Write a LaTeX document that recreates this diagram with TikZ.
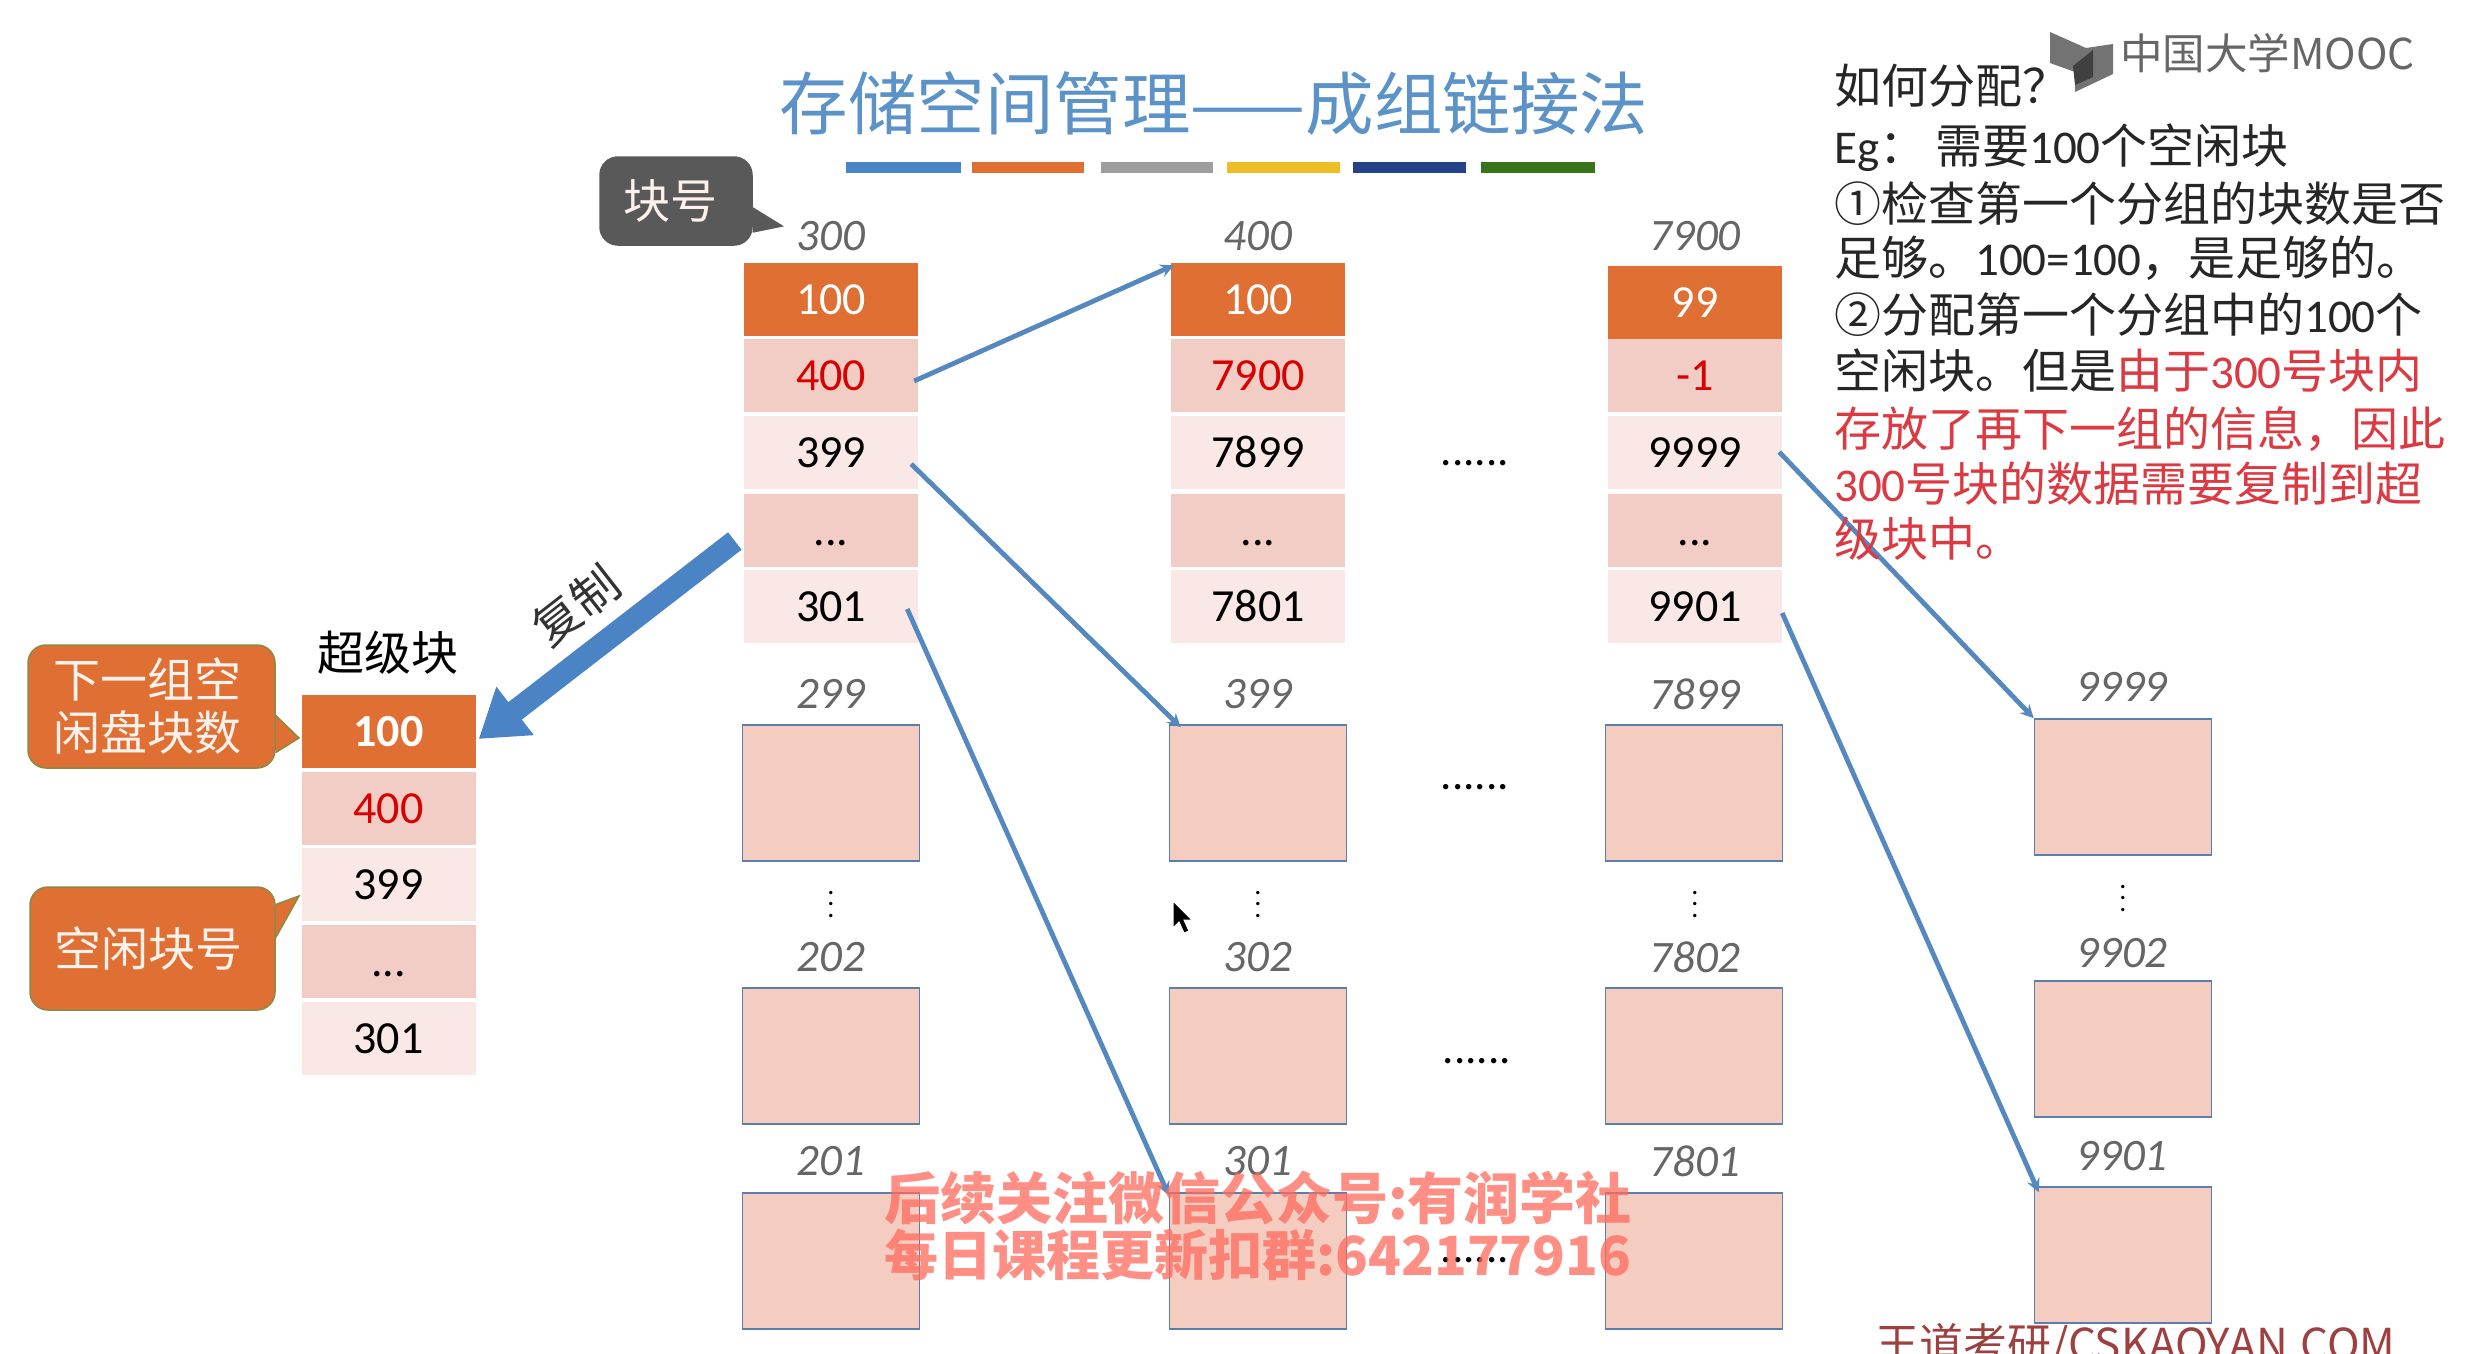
\documentclass[tikz,border=0pt]{standalone}
\usepackage{fontspec}
\usetikzlibrary{arrows.meta}
\setmainfont{Carlito}
\newfontfamily\cjk{Noto Sans CJK SC}
\newcommand{\fs}[1]{\fontsize{#1}{#1}\selectfont}
\definecolor{headfill}{HTML}{DF6F33}
\definecolor{darkrow}{HTML}{F1CDC6}
\definecolor{lightrow}{HTML}{F9E8E5}
\definecolor{blockfill}{HTML}{F5CDC0}
\definecolor{blockline}{HTML}{5A7FAE}
\definecolor{linkblue}{HTML}{5588BF}
\definecolor{widearrow}{HTML}{4A84C4}
\definecolor{titleblue}{HTML}{5B93C9}
\definecolor{markred}{HTML}{FF6A5C}
\definecolor{noteRed}{HTML}{DB3A42}
\definecolor{tailline}{HTML}{8A8A45}
\tikzset{
    cell/.style={minimum width=174pt, minimum height=73pt, inner sep=0pt, text height=31pt, text depth=0pt, font=\fs{46}},
    headcell/.style={cell, fill=headfill, text=white},
    darkcell/.style={cell, fill=darkrow},
    lightcell/.style={cell, fill=lightrow},
    blockbox/.style={draw=blockline, line width=1.6pt, fill=blockfill, inner sep=0pt, minimum width=177pt, minimum height=136pt},
    blocknum/.style={font=\fs{45}\itshape, text=black!60, inner sep=0pt},
    dotsrow/.style={font=\fs{45}, inner sep=0pt},
    vdotsrow/.style={scale=2.8, inner sep=0pt, font=\boldmath},
    link/.style={draw=linkblue, line width=4.8pt, -stealth},
    bubble/.style={fill=headfill, draw=tailline, line width=1.5pt, rounded corners=18pt, text=white!90!headfill, inner sep=0pt, font=\cjk\fs{47}, align=center},
    note/.style={anchor=base west, inner sep=0pt, font=\fs{47}, text=black!85},
    overmark/.style={text=markred, opacity=.75, inner sep=0pt, font=\cjk\bfseries\fs{54}},
}
\begin{document}
\begin{tikzpicture}[x=1pt, y=-1pt]
    \useasboundingbox (0,0) rectangle (2466,1354);
    \clip (0,0) rectangle (2466,1354);
    % Title and the coloured bars under it.
        \node[text=titleblue, inner sep=0pt, font=\cjk\fs{68.5}] (title) at (1214,104) {存储空间管理——成组链接法};
        \fill[fill=blue!0!widearrow] (846,162) rectangle (961,173);
        \fill[headfill] (972,162) rectangle (1084,173);
        \fill[black!38] (1101,162) rectangle (1213,173);
        \fill[yellow!55!headfill] (1227,162) rectangle (1340,173);
        \fill[blue!30!black!50!widearrow] (1353,162) rectangle (1466,173);
        \fill[green!40!black!60!tailline] (1481,162) rectangle (1595,173);
    % Logo in the corner.
        \fill[black!55] (2050,32) -- (2086,48) -- (2113,44) -- (2113,74) -- (2075,92) -- (2075,72) -- (2050,63) -- cycle;
        \fill[black!75] (2073,66) -- (2093,50) -- (2093,77) -- (2075,85) -- cycle;
        \node[anchor=west, text=black!60, inner sep=0pt, font=\cjk\fs{42.5}] (logo) at (2120,53) {中国大学MOOC};
    % The super block.
        \node[inner sep=0pt, font=\cjk\fs{47}] (supername) at (388,653) {超级块};
        \node[headcell, font=\fs{46}\bfseries] (sup1) at (388.5,731) {100};
        \node[darkcell, text=red!85!black] (sup2) at (388.5,808) {400};
        \node[lightcell] (sup3) at (388.5,884) {399};
        \node[darkcell] (sup4) at (388.5,961) {...};
        \node[lightcell] (sup5) at (388.5,1038) {301};
    % First group of cells.
        \node[blocknum] (num300) at (831,236) {300};
        \node[headcell] (a1) at (831,299) {100};
        \node[darkcell, text=red!85!black] (a2) at (831,375) {400};
        \node[lightcell] (a3) at (831,452) {399};
        \node[darkcell] (a4) at (831,530) {...};
        \node[lightcell] (a5) at (831,606) {301};
    % Second group of cells.
        \node[blocknum] (num400) at (1258,236) {400};
        \node[headcell] (b1) at (1258,299) {100};
        \node[darkcell, text=red!85!black] (b2) at (1258,375) {7900};
        \node[lightcell] (b3) at (1258,452) {7899};
        \node[darkcell] (b4) at (1258,530) {...};
        \node[lightcell] (b5) at (1258,606) {7801};
    % Third group of cells.
        \node[blocknum] (num7900) at (1695,236) {7900};
        \node[headcell] (c1) at (1695,302) {99};
        \node[darkcell, text=red!85!black] (c2) at (1695,375) {-1};
        \node[lightcell] (c3) at (1695,452) {9999};
        \node[darkcell] (c4) at (1695,530) {...};
        \node[lightcell] (c5) at (1695,606) {9901};
    % Row of empty blocks, one column at a time.
        \node[blocknum] (num299) at (831,694) {299};
        \node[blockbox] (blk299) at (831,793) {};
        \node[vdotsrow] (adots) at (831,896) {$\vdots$};
        \node[blocknum] (num202) at (831,957) {202};
        \node[blockbox] (blk202) at (831,1056) {};
        \node[blocknum] (num201) at (831,1161) {201};
        \node[blockbox] (blk201) at (831,1261) {};
        \node[blocknum] (num399) at (1258,694) {399};
        \node[blockbox] (blk399) at (1258,793) {};
        \node[vdotsrow] (bdots) at (1258,896) {$\vdots$};
        \node[blocknum] (num302) at (1258,957) {302};
        \node[blockbox] (blk302) at (1258,1056) {};
        \node[blocknum] (num301) at (1258,1161) {301};
        \node[blockbox] (blk301) at (1258,1261) {};
        \node[blocknum] (num7899) at (1695,694) {7899};
        \node[blockbox] (blk7899) at (1694,793) {};
        \node[vdotsrow] (cdots) at (1695,896) {$\vdots$};
        \node[blocknum] (num7802) at (1695,957) {7802};
        \node[blockbox] (blk7802) at (1694,1056) {};
        \node[blocknum] (num7801) at (1695,1161) {7801};
        \node[blockbox] (blk7801) at (1694,1261) {};
        \node[blocknum] (num9999) at (2122,687) {9999};
        \node[blockbox] (blk9999) at (2123,787) {};
        \node[vdotsrow] (ddots) at (2123,890) {$\vdots$};
        \node[blocknum] (num9902) at (2122,953) {9902};
        \node[blockbox] (blk9902) at (2123,1049) {};
        \node[blocknum] (num9901) at (2122,1156) {9901};
        \node[blockbox] (blk9901) at (2123,1255) {};
    % This draws the dots between the columns.
        \node[dotsrow] (row1) at (1475,463) {......};
        \node[dotsrow] (row2) at (1475,787) {......};
        \node[dotsrow] (row3) at (1477,1061) {......};
        \node[dotsrow] (row4) at (1475,1260) {......};
    % Links between groups.
        \draw[link] ([xshift=-4pt,yshift=-6pt]a2.east) -- ([xshift=3pt,yshift=-3pt]b1.north west);
        \draw[link] ([xshift=-7pt,yshift=-12pt]a3.east) -- ([xshift=12pt,yshift=-3pt]blk399.north west);
        \draw[link] ([xshift=-11pt,yshift=-3pt]a5.east) -- ([xshift=0pt,yshift=-3pt]blk301.north west);
        \draw[link] ([xshift=-3pt]c3.east) -- (blk9999.north west);
        \draw[link] ([yshift=-7pt]c5.east) -- ([xshift=5pt,yshift=-6pt]blk9901.north west);
    % The wide arrow and its label.
        \draw[draw=widearrow, line width=22pt, -{Triangle[width=58pt,length=46pt]}] ([xshift=-9pt,yshift=-11pt]a4.west) -- ([xshift=3pt,yshift=-8pt]sup1.east);
        \node[rotate=38, inner sep=0pt, font=\cjk\fs{47}, text=black!80] (copytext) at (576,605) {复制};
    % Speech bubbles.
        \node[bubble, minimum width=247pt, minimum height=123pt] (nextcall) at (151.5,706.5) {\hspace*{-9pt}下一组空\\[6pt]\hspace*{-9pt}闲盘块数};
        \coordinate (nexttip) at (299,738);
        \filldraw[fill=headfill, draw=tailline, line width=1.5pt] ([yshift=-9pt]nextcall.east) -- (nexttip) -- ([yshift=-46pt]nextcall.east);
        \node[bubble, minimum width=245pt, minimum height=123pt] (freecall) at (152.5,948.5) {\hspace*{-9pt}空闲块号};
        \coordinate (freetip) at (299,896);
        \filldraw[fill=headfill, draw=tailline, line width=1.5pt] ([yshift=44pt]freecall.east) -- (freetip) -- ([yshift=11pt]freecall.east);
        \node[bubble, fill=black!65, draw=black!65, minimum width=152pt, minimum height=88pt] (numcall) at (676,201) {\hspace*{-12pt}块号};
        \coordinate (numtip) at (782,226);
        \filldraw[fill=black!65, draw=black!65, line width=1.5pt] ([yshift=-7pt]numcall.east) -- (numtip) -- ([yshift=-31pt]numcall.east);
    % Below nodes are the notes on the right.
        \node[note] (line1) at (1834,103) {\cjk 如何分配？};
        \node[note] (line2) at (1834,163) {Eg{\cjk ：}\hspace{9pt}{\cjk 需要}100{\cjk 个空闲块}};
        \node[note] (line3) at (1834,221) {\cjk ①检查第一个分组的块数是否};
        \node[note] (line4) at (1834,275) {{\cjk 足够。}100=100{\cjk ，是足够的。}};
        \node[note] (line5) at (1834,332) {{\cjk ②分配第一个分组中的}100{\cjk 个}};
        \node[note] (line6) at (1834,388) {{\cjk 空闲块。但是}\textcolor{noteRed}{{\cjk 由于}300{\cjk 号块内}}};
        \node[note, text=noteRed] (line7) at (1834,446) {\cjk 存放了再下一组的信息，因此};
        \node[note, text=noteRed] (line8) at (1834,501) {300{\cjk 号块的数据需要复制到超}};
        \node[note, text=noteRed] (line9) at (1834,556) {\cjk 级块中。};
    % Mouse pointer.
        \filldraw[fill=black, draw=white, line width=1pt] (1173,901) -- (1173,928) -- (1179,922) -- (1184,933) -- (1189,931) -- (1184,920) -- (1192,920) -- cycle;
    % Marks laid over the slide.
        \node[overmark, font=\cjk\bfseries\fs{56}] (mark1) at (1258,1198) {后续关注微信公众号:有润学社};
        \node[overmark] (mark2) at (1258,1255) {每日课程更新扣群:642177916};
        \node[anchor=base west, inner sep=0pt, text=red!50!black!75, font=\cjk\fs{44}] (mark3) at (1875,1360) {王道考研/CSKAOYAN.COM};
\end{tikzpicture}
\end{document}
